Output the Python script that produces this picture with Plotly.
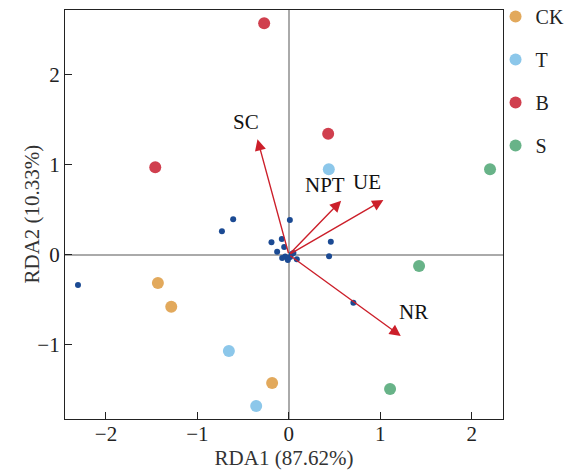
import plotly.graph_objects as go

# Sample scores by group
groups = ["CK", "T", "B", "S"]
group_colors = ["#E2A95C", "#8CC7EA", "#D03F4E", "#68B388"]
ck_x = [-1.432, -1.286, -0.183]
ck_y = [-0.314, -0.578, -1.426]
t_x = [0.437, -0.656, -0.357]
t_y = [0.949, -1.070, -1.681]
b_x = [-0.270, 0.430, -1.461]
b_y = [2.571, 1.345, 0.971]
s_x = [2.200, 1.424, 1.107]
s_y = [0.949, -0.126, -1.492]

# Species scores (small points)
sp_x = [-2.306, -0.609, -0.732, 0.011, 0.459, 0.440, 0.706, -0.190, -0.077,
        -0.051, -0.128, -0.040, -0.011, 0.033, 0.087, -0.073, 0.014, 0.050]
sp_y = [-0.337, 0.393, 0.260, 0.386, 0.144, -0.018, -0.533, 0.138, 0.174,
        0.086, 0.033, -0.020, -0.059, 0.008, -0.051, -0.037, -0.026, 0.020]

# Environmental vectors
env_names = ["SC", "NPT", "UE", "NR"]
env_x = [-0.343, 0.572, 1.034, 1.224]
env_y = [1.282, 0.600, 0.608, -0.903]
lab_x = [-0.47, 0.40, 0.85, 1.36]
lab_y = [1.47, 0.77, 0.81, -0.64]

x_title = "RDA1 (87.62%)"
y_title = "RDA2 (10.33%)"

FONT = "Liberation Serif"

fig = go.Figure()
fig.add_trace(go.Scatter(x=sp_x, y=sp_y, mode="markers", showlegend=False,
                         marker=dict(size=6, color="#1B4A93")))
for name, col, xs, ys in zip(groups, group_colors,
                             [ck_x, t_x, b_x, s_x], [ck_y, t_y, b_y, s_y]):
    fig.add_trace(go.Scatter(x=xs, y=ys, mode="markers", name=name, legendgroup=name,
                             marker=dict(size=12, color=col)))

for n, ex, ey, lx, ly in zip(env_names, env_x, env_y, lab_x, lab_y):
    fig.add_annotation(x=ex, y=ey, ax=0, ay=0, xref="x", yref="y", axref="x", ayref="y",
                       showarrow=True, arrowhead=2, arrowsize=1.6, arrowwidth=1.4,
                       arrowcolor="#CC1F2A", text="")
    fig.add_annotation(x=lx, y=ly, xref="x", yref="y", text=n, showarrow=False,
                       font=dict(family=FONT, size=21, color="#111"))

# y-axis title placed as rotated annotation for precise positioning
fig.add_annotation(x=0, y=0.5, xref="paper", yref="paper", text=y_title, textangle=-90,
                   showarrow=False, xanchor="center", yanchor="middle", xshift=-34,
                   font=dict(family=FONT, size=21, color="#333"))

axis_common = dict(showline=True, linecolor="#222", linewidth=1.3, mirror=True,
                   ticks="inside", ticklen=7, tickcolor="#222", tickwidth=1.3,
                   showgrid=False, zeroline=True, zerolinecolor="#AAAAAA", zerolinewidth=1.5,
                   tickfont=dict(family=FONT, size=21, color="#222"))
fig.update_xaxes(range=[-2.448, 2.342], tickvals=[-2, -1, 0, 1, 2], ticklabelstandoff=-4,
                 title=dict(text=x_title, font=dict(family=FONT, size=21, color="#333"),
                            standoff=0), **axis_common)
fig.update_yaxes(range=[-1.826, 2.719], tickvals=[-1, 0, 1, 2], **axis_common)

# page has an 8px body margin; size/margins compensate so the plot sits as in the reference
fig.update_layout(width=576, height=463,
                  margin=dict(l=57, r=81, t=2, b=52, autoexpand=False),
                  plot_bgcolor="white", paper_bgcolor="white",
                  legend=dict(x=0.983, y=1.032, xanchor="left", yanchor="top",
                              font=dict(family=FONT, size=20, color="#222"),
                              tracegroupgap=14, bgcolor="rgba(0,0,0,0)"),
                  font=dict(family=FONT))

fig.write_html("out.html")
